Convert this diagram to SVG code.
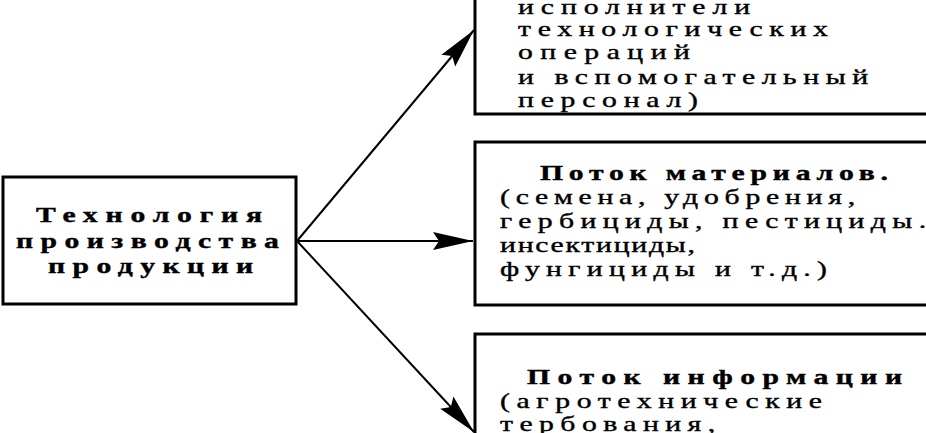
<svg xmlns="http://www.w3.org/2000/svg" width="926" height="433" viewBox="0 0 926 433">
<style>
.box{fill:#fff;stroke:#000;stroke-width:3}
.conn{stroke:#000;stroke-width:2;fill:none}
.t{font-family:"Liberation Serif","Times New Roman",serif;font-size:22px;fill:#000;stroke:#000;stroke-width:0.4}
.b{font-weight:bold}
</style>
<defs>
<marker id="arr" markerUnits="userSpaceOnUse" markerWidth="46" markerHeight="26" viewBox="-42 -13 46 26" refX="0" refY="0" orient="auto">
<path d="M0,0 L-40,-9 L-34,0 L-40,9 z" fill="#000"/>
</marker>
</defs>
<rect width="926" height="433" fill="#fff"/>
<g id="connectors">
<line class="conn" x1="297" y1="241" x2="474" y2="30" marker-end="url(#arr)"/>
<line class="conn" x1="297" y1="241" x2="473" y2="241" marker-end="url(#arr)"/>
<line class="conn" x1="297" y1="241" x2="474" y2="432" marker-end="url(#arr)"/>
</g>
<g id="tech">
<rect class="box" x="3" y="177" width="293" height="127"/>
<g transform="scale(1.35 1)">
<text class="t b" x="26.67" y="222" textLength="167.4">Технология</text>
<text class="t b" x="11.85" y="248" textLength="194.8">производства</text>
<text class="t b" x="35.56" y="273" textLength="151.9">продукции</text>
</g>
</g>
<g id="people">
<rect class="box" x="475" y="-10" width="460" height="124"/>
<g transform="scale(1.35 1)">
<text class="t" x="383.7" y="14" textLength="171.9">исполнители</text>
<text class="t" x="383.7" y="36" textLength="229.6">технологических</text>
<text class="t" x="383.7" y="59" textLength="127.4">операций</text>
<text class="t" x="383.7" y="84" textLength="259.3">и вспомогательный</text>
<text class="t" x="383.7" y="107" textLength="133.3">персонал)</text>
</g>
</g>
<g id="materials">
<rect class="box" x="475" y="142" width="460" height="163"/>
<g transform="scale(1.35 1)">
<text class="t b" x="400" y="180" textLength="257.8">Поток материалов.</text>
<text class="t" x="370.4" y="204" textLength="263">(семена, удобрения,</text>
<text class="t" x="370.4" y="228" textLength="315.6">гербициды, пестициды.</text>
<text class="t" x="370.4" y="252" textLength="144.4">инсектициды,</text>
<text class="t" x="370.4" y="276" textLength="242.2">фунгициды и т.д.)</text>
</g>
</g>
<g id="info">
<rect class="box" x="475" y="334" width="460" height="110"/>
<g transform="scale(1.35 1)">
<text class="t b" x="390.4" y="384" textLength="277.8">Поток информации</text>
<text class="t" x="370.4" y="408" textLength="238.5">(агротехнические</text>
<text class="t" x="370.4" y="431" textLength="159.3">тербования,</text>
</g>
</g>
</svg>
